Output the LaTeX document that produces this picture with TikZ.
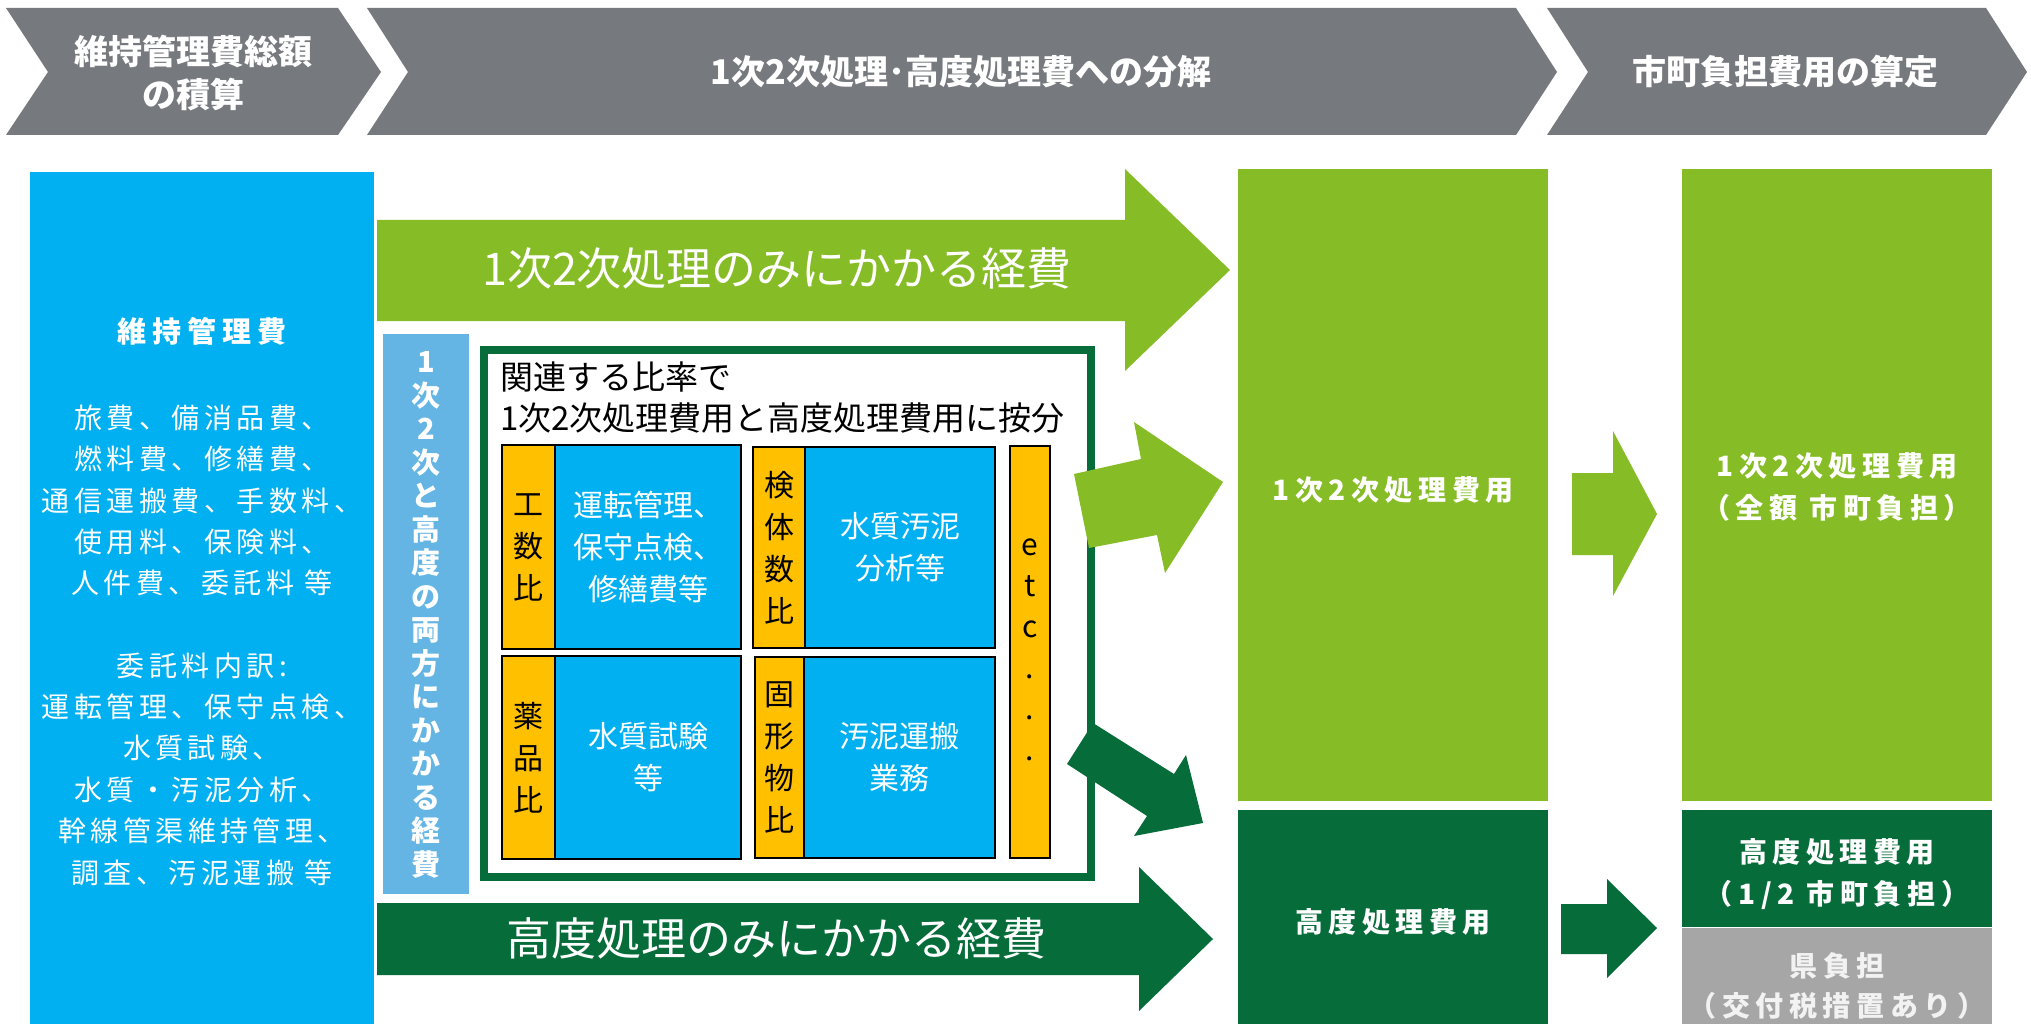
\documentclass[tikz,border=0pt]{standalone}
\usepackage{fontspec}
\setmainfont{Noto Sans CJK JP}
\newfontfamily\jp{Noto Sans CJK JP}
\newfontfamily\jpls[LetterSpace=16]{Noto Sans CJK JP}
\newfontfamily\jplsb[LetterSpace=20]{Noto Sans CJK JP}
\definecolor{hgray}{RGB}{118,121,125}
\definecolor{cblue}{RGB}{0,176,240}
\definecolor{lblue}{RGB}{100,180,228}
\definecolor{lgreen}{RGB}{134,188,37}
\definecolor{dgreen}{RGB}{6,108,57}
\definecolor{corange}{RGB}{255,192,0}
\definecolor{bgray}{RGB}{166,166,166}
\definecolor{ltext}{RGB}{242,242,242}
\tikzset{
  rect/.style 2 args={rectangle, minimum width=#1, minimum height=#2},
  hdr/.style={text=white, align=center, font=\jp\bfseries\fontsize{34}{43}\selectfont},
  bodytxt/.style={text=white, align=center, font=\jpls\fontsize{28}{41.4}\selectfont},
  celltxt/.style={align=center, font=\jp\fontsize{30}{42}\selectfont},
  bigtxt/.style={text=white, font=\jp\fontsize{45}{50}\selectfont},
  restxt/.style={text=white, align=center, font=\jplsb\bfseries\fontsize{28}{42}\selectfont},
  cellbox/.style={draw=black, line width=2.5pt},
}
\begin{document}
\begin{tikzpicture}[x=1pt,y=-1pt, every node/.style={inner sep=0pt, outer sep=0pt}]
\useasboundingbox (0,0) rectangle (2031,1024);
\fill[white] (0,0) rectangle (2031,1024);

% header chevrons
\fill[hgray] (6,8) -- (338,8) -- (381,72) -- (338,135) -- (6,135) -- (48,72) -- cycle;
\fill[hgray] (367,8) -- (1516,8) -- (1557,72) -- (1516,135) -- (367,135) -- (408,72) -- cycle;
\fill[hgray] (1547,8) -- (1986,8) -- (2027,72) -- (1986,135) -- (1547,135) -- (1588,72) -- cycle;
\node[hdr] (h1) at (193,73) {維持管理費総額\\の積算};
\node[hdr] (h2) at (961,72) {1次2次処理･高度処理費への分解};
\node[hdr] (h3) at (1785,72) {市町負担費用の算定};

% left blue box
\node[rect={344}{852}, fill=cblue] (total) at (202,598) {};
\node[text=white, font=\jplsb\bfseries\fontsize{29}{40}\selectfont] (ttl) at (202,331) {維持管理費};
\node[bodytxt] (items1) at (202,500.5) {旅費、備消品費、\\燃料費、修繕費、\\通信運搬費、手数料、\\使用料、保険料、\\人件費、委託料 等};
\node[bodytxt] (items2) at (202,769) {委託料内訳:\\運転管理、保守点検、\\水質試験、\\水質・汚泥分析、\\幹線管渠維持管理、\\調査、汚泥運搬 等};

% light blue vertical box
\node[rect={86}{560}, fill=lblue] (both) at (426,614) {};
\node[text=white, align=center, font=\jp\bfseries\fontsize{29}{33.5}\selectfont] (bothtxt) at (426,615)
  {1\\次\\2\\次\\と\\高\\度\\の\\両\\方\\に\\か\\か\\る\\経\\費};

% big top arrow (light green)
\fill[lgreen] (377,220) -- (1125,220) -- (1125,169) -- (1230,270) -- (1125,371) -- (1125,321) -- (377,321) -- cycle;
\node[bigtxt] (only12) at (777,268) {1次2次処理のみにかかる経費};

% big bottom arrow (dark green)
\fill[dgreen] (377,903) -- (1139,903) -- (1139,867) -- (1213,939) -- (1139,1011) -- (1139,975) -- (377,975) -- cycle;
\node[bigtxt] (onlyadv) at (776,938) {高度処理のみにかかる経費};

% framed allocation box
\node[rect={607}{527}, draw=dgreen, line width=8pt, fill=white] (frame) at (787.5,613.5) {};
\node[anchor=west, align=left, font=\jp\fontsize{33}{41}\selectfont] (frametxt) at (500,397.5)
  {関連する比率で\\1次2次処理費用と高度処理費用に按分};

\node[rect={53}{204}, fill=corange, cellbox] (o1) at (528.5,547) {};
\node[rect={186}{204}, fill=cblue, cellbox] (b1) at (648,547) {};
\node[rect={52}{201}, fill=corange, cellbox] (o2) at (779,547.5) {};
\node[rect={190}{201}, fill=cblue, cellbox] (b2) at (900,547.5) {};
\node[rect={53}{203}, fill=corange, cellbox] (o3) at (528.5,757.5) {};
\node[rect={186}{203}, fill=cblue, cellbox] (b3) at (648,757.5) {};
\node[rect={49}{201}, fill=corange, cellbox] (o4) at (779.5,757.5) {};
\node[rect={191}{201}, fill=cblue, cellbox] (b4) at (899.5,757.5) {};
\node[rect={40}{412}, fill=corange, cellbox] (o5) at (1030,652) {};

\node[celltxt] (o1t) at (o1) {工\\数\\比};
\node[celltxt, text=white] (b1t) at (b1) {運転管理、\\保守点検、\\修繕費等};
\node[celltxt] (o2t) at (o2) {検\\体\\数\\比};
\node[celltxt, text=white] (b2t) at (b2) {水質汚泥\\分析等};
\node[celltxt] (o3t) at (o3) {薬\\品\\比};
\node[celltxt, text=white] (b3t) at (b3) {水質試験\\等};
\node[celltxt] (o4t) at (o4) {固\\形\\物\\比};
\node[celltxt, text=white] (b4t) at (b4) {汚泥運搬\\業務};
\node[align=center, font=\jp\fontsize{30}{41}\selectfont] (o5t) at (1030,650) {e\\t\\c\\.\\.\\.};

% slanted arrows
\fill[lgreen] (1074,474) -- (1141,459) -- (1134,422) -- (1223,482) -- (1165,573) -- (1157,535) -- (1089,548) -- cycle;
\fill[dgreen] (1093,723) -- (1174,774) -- (1186,755) -- (1203,823) -- (1134,836) -- (1147,816) -- (1067,764) -- cycle;

% middle column
\node[rect={310}{632}, fill=lgreen] (prim) at (1393,485) {};
\node[restxt] (primt) at (1393,490) {1次2次処理費用};
\node[rect={310}{214}, fill=dgreen] (adv) at (1393,917) {};
\node[restxt] (advt) at (1393,922) {高度処理費用};

% arrows to right column
\fill[lgreen] (1572,473) -- (1613,473) -- (1613,431) -- (1657,514) -- (1613,596) -- (1613,555) -- (1572,555) -- cycle;
\fill[dgreen] (1561,904) -- (1607,904) -- (1607,879) -- (1657,928) -- (1607,978) -- (1607,954) -- (1561,954) -- cycle;

% right column
\node[rect={310}{632}, fill=lgreen] (city1) at (1837,485) {};
\node[restxt] (city1t) at (1837,487) {1次2次処理費用\\（全額 市町負担）};
\node[rect={310}{117}, fill=dgreen] (city2) at (1837,868.5) {};
\node[restxt] (city2t) at (1837,874) {高度処理費用\\（1/2 市町負担）};
\node[rect={310}{96}, fill=bgray] (pref) at (1837,976) {};
\node[restxt, text=ltext, font=\jplsb\bfseries\fontsize{28}{40}\selectfont] (preft) at (1837,986) {県負担\\（交付税措置あり）};
\end{tikzpicture}
\end{document}
